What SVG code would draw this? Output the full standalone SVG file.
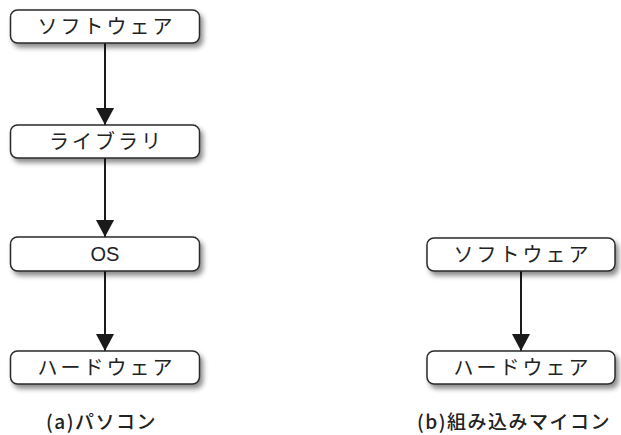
<svg xmlns="http://www.w3.org/2000/svg" width="621" height="435" viewBox="0 0 621 435">
<defs>
<filter id="sh" x="-10%" y="-30%" width="125%" height="180%">
<feDropShadow dx="3" dy="4" stdDeviation="2.5" flood-color="#000" flood-opacity="0.45"/>
</filter>
<marker id="ah" markerUnits="userSpaceOnUse" markerWidth="18" markerHeight="18" viewBox="0 0 18 18" refX="17" refY="9" orient="auto">
<path d="M0,0 L17,9 L0,18 Z" fill="#1a1a1a"/>
</marker>
</defs>
<style>
.box{fill:#fff;stroke:#2a2a2a;stroke-width:1.5;filter:url(#sh)}
.t{font-family:"Noto Sans CJK JP","Liberation Sans",sans-serif;font-size:20px;fill:#222;text-anchor:middle;letter-spacing:3px}
.os{font-family:"Liberation Sans","Noto Sans",sans-serif;font-size:20px;fill:#222;text-anchor:middle}
.cap{font-family:"Noto Sans CJK JP","Liberation Sans",sans-serif;font-size:19px;font-weight:500;fill:#222;letter-spacing:1.5px}
.c{stroke:#1a1a1a;stroke-width:2;fill:none;marker-end:url(#ah)}
</style>
<rect width="621" height="435" fill="#fff"/>
<g id="connectors">
<line class="c" x1="105" y1="43" x2="105" y2="125"/>
<line class="c" x1="105" y1="158" x2="105" y2="237"/>
<line class="c" x1="105" y1="271" x2="105" y2="351"/>
<line class="c" x1="521" y1="271" x2="521" y2="351"/>
</g>
<g id="a-software">
<rect class="box" x="10.5" y="10" width="189" height="33" rx="7"/>
<text class="t" x="106.5" y="34">ソフトウェア</text>
</g>
<g id="a-library">
<rect class="box" x="10.5" y="125" width="189" height="33" rx="7"/>
<text class="t" x="106.5" y="149">ライブラリ</text>
</g>
<g id="a-os">
<rect class="box" x="10.5" y="237" width="189" height="34" rx="7"/>
<text class="os" x="105" y="261">OS</text>
</g>
<g id="a-hardware">
<rect class="box" x="10.5" y="351" width="189" height="33" rx="7"/>
<text class="t" x="106.5" y="375">ハードウェア</text>
</g>
<g id="b-software">
<rect class="box" x="427" y="238" width="188" height="33" rx="7"/>
<text class="t" x="522.5" y="262">ソフトウェア</text>
</g>
<g id="b-hardware">
<rect class="box" x="427" y="351" width="188" height="33" rx="7"/>
<text class="t" x="522.5" y="375">ハードウェア</text>
</g>
<text class="cap" x="46" y="429">(a)パソコン</text>
<text class="cap" x="417" y="429">(b)組み込みマイコン</text>
</svg>
